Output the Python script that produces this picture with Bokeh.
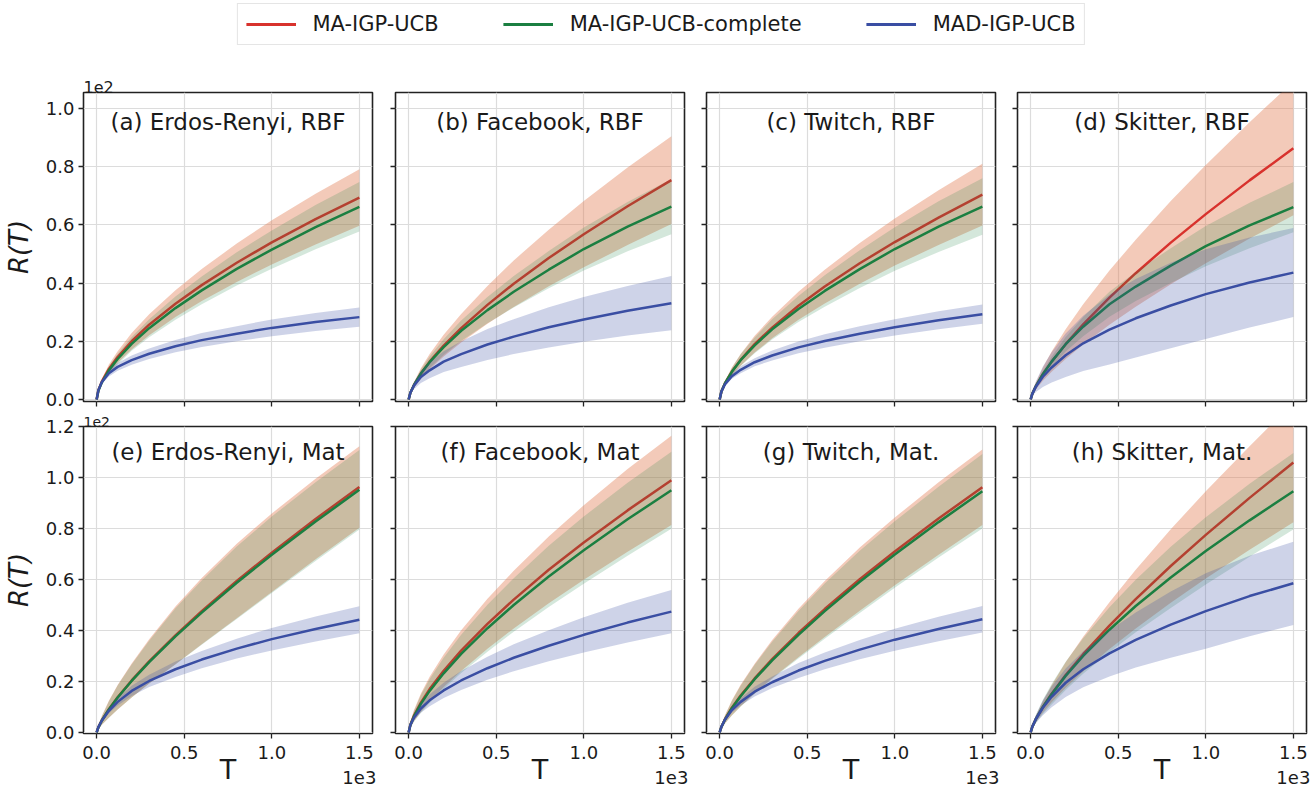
from bokeh.plotting import figure
from bokeh.models import (Legend, LegendItem, FixedTicker, Title, Label,
                          PrintfTickFormatter, CustomJSTickFormatter, Range1d)
from bokeh.layouts import column, row
from bokeh.embed import file_html
from bokeh.resources import INLINE

# ---------------- data (R(T) in units of 1e2, T in units of 1e3) ----------------
T = [0, 0.01, 0.03, 0.07, 0.12, 0.2, 0.3, 0.45, 0.6, 0.8, 1.0, 1.25, 1.5]

series_names = ["MA-IGP-UCB", "MA-IGP-UCB-complete", "MAD-IGP-UCB"]
panel_titles = ["(a) Erdos-Renyi, RBF", "(b) Facebook, RBF", "(c) Twitch, RBF",
                "(d) Skitter, RBF", "(e) Erdos-Renyi, Mat", "(f) Facebook, Mat",
                "(g) Twitch, Mat.", "(h) Skitter, Mat."]
x_ticks = [0.0, 0.5, 1.0, 1.5]
y_ticks_top = [0.0, 0.2, 0.4, 0.6, 0.8, 1.0]
y_ticks_bottom = [0.0, 0.2, 0.4, 0.6, 0.8, 1.0, 1.2]
x_scale_text = "1e3"
y_scale_text = "1e2"
x_label = "T"
y_label = "R(T)"

# (a) Erdos-Renyi, RBF
a_ma    = [0, 0.032, 0.062, 0.105, 0.146, 0.2, 0.257, 0.329, 0.393, 0.47, 0.54, 0.62, 0.694]
a_ma_w  = [0, 0.0045, 0.009, 0.015, 0.02, 0.028, 0.036, 0.046, 0.055, 0.066, 0.076, 0.087, 0.097]
a_mac   = [0, 0.03, 0.059, 0.1, 0.139, 0.191, 0.245, 0.314, 0.375, 0.449, 0.515, 0.592, 0.662]
a_mac_w = [0, 0.004, 0.008, 0.013, 0.018, 0.024, 0.031, 0.04, 0.048, 0.057, 0.066, 0.076, 0.085]
a_mad   = [0, 0.032, 0.06, 0.09, 0.112, 0.135, 0.157, 0.183, 0.204, 0.226, 0.246, 0.266, 0.283]
a_mad_w = [0, 0.004, 0.007, 0.011, 0.013, 0.016, 0.018, 0.021, 0.024, 0.026, 0.029, 0.031, 0.033]
# (b) Facebook, RBF
b_ma    = [0, 0.023, 0.049, 0.089, 0.13, 0.185, 0.245, 0.325, 0.398, 0.486, 0.568, 0.664, 0.754]
b_ma_w  = [0, 0.005, 0.01, 0.018, 0.026, 0.037, 0.049, 0.065, 0.08, 0.097, 0.114, 0.133, 0.151]
b_mac   = [0, 0.023, 0.049, 0.089, 0.128, 0.18, 0.236, 0.307, 0.37, 0.446, 0.517, 0.594, 0.663]
b_mac_w = [0, 0.004, 0.008, 0.014, 0.02, 0.027, 0.035, 0.045, 0.054, 0.064, 0.074, 0.085, 0.095]
b_mad   = [0, 0.023, 0.047, 0.077, 0.1, 0.13, 0.156, 0.189, 0.216, 0.248, 0.275, 0.305, 0.331]
b_mad_w = [0, 0.006, 0.012, 0.02, 0.027, 0.036, 0.044, 0.053, 0.06, 0.069, 0.077, 0.085, 0.093]
# (c) Twitch, RBF
c_ma    = [0, 0.027, 0.055, 0.096, 0.136, 0.19, 0.247, 0.322, 0.388, 0.468, 0.541, 0.625, 0.704]
c_ma_w  = [0, 0.004, 0.008, 0.014, 0.02, 0.029, 0.037, 0.048, 0.058, 0.07, 0.081, 0.094, 0.106]
c_mac   = [0, 0.027, 0.055, 0.095, 0.135, 0.186, 0.241, 0.311, 0.373, 0.448, 0.517, 0.594, 0.663]
c_mac_w = [0, 0.004, 0.008, 0.014, 0.02, 0.027, 0.035, 0.045, 0.054, 0.065, 0.075, 0.087, 0.097]
c_mad   = [0, 0.027, 0.052, 0.08, 0.102, 0.128, 0.151, 0.179, 0.201, 0.226, 0.248, 0.272, 0.293]
c_mad_w = [0, 0.003, 0.006, 0.009, 0.012, 0.014, 0.017, 0.02, 0.023, 0.026, 0.028, 0.031, 0.033]
# (d) Skitter, RBF
d_ma    = [0, 0.02, 0.046, 0.087, 0.13, 0.19, 0.258, 0.35, 0.434, 0.539, 0.637, 0.753, 0.863]
d_ma_w  = [0, 0.005, 0.012, 0.023, 0.035, 0.051, 0.069, 0.093, 0.115, 0.143, 0.169, 0.2, 0.23]
d_mac   = [0, 0.02, 0.046, 0.087, 0.13, 0.19, 0.25, 0.327, 0.388, 0.46, 0.527, 0.598, 0.661]
d_mac_w = [0, 0.003, 0.006, 0.011, 0.017, 0.025, 0.033, 0.043, 0.05, 0.06, 0.069, 0.078, 0.086]
d_mad   = [0, 0.02, 0.044, 0.078, 0.11, 0.152, 0.193, 0.24, 0.279, 0.323, 0.362, 0.402, 0.436]
d_mad_w = [0, 0.008, 0.018, 0.035, 0.052, 0.075, 0.095, 0.12, 0.135, 0.147, 0.154, 0.155, 0.153]
# (e) Erdos-Renyi, Mat
e_ma    = [0, 0.021, 0.048, 0.091, 0.138, 0.204, 0.279, 0.381, 0.476, 0.594, 0.705, 0.837, 0.963]
e_ma_w  = [0, 0.008, 0.018, 0.033, 0.048, 0.067, 0.087, 0.113, 0.13, 0.146, 0.154, 0.158, 0.16]
e_mac   = [0, 0.02, 0.047, 0.09, 0.137, 0.202, 0.276, 0.377, 0.47, 0.587, 0.697, 0.827, 0.952]
e_mac_w = [0, 0.008, 0.017, 0.032, 0.047, 0.065, 0.084, 0.11, 0.126, 0.142, 0.15, 0.154, 0.156]
e_mad   = [0, 0.021, 0.047, 0.085, 0.12, 0.163, 0.202, 0.248, 0.286, 0.329, 0.366, 0.406, 0.442]
e_mad_w = [0, 0.003, 0.006, 0.01, 0.014, 0.02, 0.024, 0.03, 0.034, 0.039, 0.044, 0.049, 0.053]
# (f) Facebook, Mat
f_ma    = [0, 0.03, 0.065, 0.117, 0.17, 0.242, 0.321, 0.426, 0.521, 0.638, 0.745, 0.871, 0.989]
f_ma_w  = [0, 0.012, 0.022, 0.036, 0.049, 0.064, 0.08, 0.098, 0.113, 0.131, 0.146, 0.162, 0.175]
f_mac   = [0, 0.029, 0.062, 0.112, 0.163, 0.232, 0.308, 0.409, 0.5, 0.612, 0.715, 0.836, 0.95]
f_mac_w = [0, 0.011, 0.021, 0.035, 0.047, 0.061, 0.075, 0.092, 0.105, 0.12, 0.132, 0.143, 0.151]
f_mad   = [0, 0.029, 0.058, 0.094, 0.126, 0.165, 0.204, 0.252, 0.293, 0.34, 0.383, 0.431, 0.474]
f_mad_w = [0, 0.005, 0.01, 0.017, 0.023, 0.03, 0.037, 0.045, 0.053, 0.061, 0.069, 0.078, 0.085]
# (g) Twitch, Mat.
g_ma    = [0, 0.022, 0.051, 0.097, 0.145, 0.212, 0.288, 0.39, 0.484, 0.601, 0.71, 0.839, 0.962]
g_ma_w  = [0, 0.007, 0.016, 0.029, 0.042, 0.058, 0.075, 0.095, 0.11, 0.124, 0.133, 0.142, 0.148]
g_mac   = [0, 0.022, 0.05, 0.095, 0.142, 0.209, 0.283, 0.383, 0.476, 0.591, 0.698, 0.825, 0.946]
g_mac_w = [0, 0.007, 0.016, 0.028, 0.041, 0.057, 0.073, 0.093, 0.108, 0.122, 0.13, 0.139, 0.146]
g_mad   = [0, 0.022, 0.05, 0.088, 0.12, 0.16, 0.197, 0.243, 0.281, 0.325, 0.364, 0.406, 0.444]
g_mad_w = [0, 0.003, 0.006, 0.01, 0.014, 0.019, 0.023, 0.029, 0.033, 0.038, 0.043, 0.048, 0.052]
# (h) Skitter, Mat.
h_ma    = [0, 0.023, 0.053, 0.1, 0.152, 0.225, 0.307, 0.419, 0.523, 0.653, 0.775, 0.92, 1.059]
h_ma_w  = [0, 0.005, 0.012, 0.022, 0.033, 0.05, 0.068, 0.092, 0.115, 0.144, 0.171, 0.203, 0.235]
h_mac   = [0, 0.023, 0.053, 0.1, 0.15, 0.222, 0.3, 0.403, 0.496, 0.608, 0.712, 0.832, 0.946]
h_mac_w = [0, 0.007, 0.016, 0.028, 0.04, 0.055, 0.07, 0.088, 0.103, 0.12, 0.132, 0.143, 0.15]
h_mad   = [0, 0.023, 0.053, 0.097, 0.14, 0.195, 0.248, 0.31, 0.363, 0.423, 0.476, 0.535, 0.585]
h_mad_w = [0, 0.007, 0.016, 0.029, 0.041, 0.056, 0.071, 0.09, 0.108, 0.13, 0.148, 0.158, 0.163]

panels = [
    (a_ma, a_ma_w, a_mac, a_mac_w, a_mad, a_mad_w),
    (b_ma, b_ma_w, b_mac, b_mac_w, b_mad, b_mad_w),
    (c_ma, c_ma_w, c_mac, c_mac_w, c_mad, c_mad_w),
    (d_ma, d_ma_w, d_mac, d_mac_w, d_mad, d_mad_w),
    (e_ma, e_ma_w, e_mac, e_mac_w, e_mad, e_mad_w),
    (f_ma, f_ma_w, f_mac, f_mac_w, f_mad, f_mad_w),
    (g_ma, g_ma_w, g_mac, g_mac_w, g_mad, g_mad_w),
    (h_ma, h_ma_w, h_mac, h_mac_w, h_mad, h_mad_w),
]

# ---------------- style ----------------
FONT = "DejaVu Sans"
LINE_COLORS = ["#d8322d", "#1b7f41", "#3a4ea3"]
FILL_COLORS = ["#e07a50", "#1b7f41", "#3a4ea3"]
FILL_ALPHAS = [0.40, 0.19, 0.25]
TEXT = "#1a1a1a"
TICK_FONT = "18px"

Y_TOP = (-0.007, 1.055)
Y_BOT = (-0.004, 1.2)
EMPTY = CustomJSTickFormatter(code="return '';")

# column geometry: (left border, frame width, right border)
COLS = [(83, 289, 11), (12, 289, 11), (11, 289, 11), (11, 289, 6)]
# row geometry: (top border, frame height, bottom border)
ROWS = [(42, 309, 9), (16, 307, 55)]


def make_panel(idx):
    col, r = idx % 4, idx // 4
    left, fw, right = COLS[col]
    top, fh, bottom = ROWS[r]
    yr = Y_TOP if r == 0 else Y_BOT
    yt = y_ticks_top if r == 0 else y_ticks_bottom
    p = figure(width=left + fw + right, height=top + fh + bottom,
               min_border_left=left, min_border_right=right,
               min_border_top=top, min_border_bottom=bottom,
               x_range=Range1d(-0.075, 1.575), y_range=Range1d(*yr),
               toolbar_location=None, output_backend="svg", title=None)
    p.background_fill_color = "white"
    p.border_fill_color = "white"
    p.outline_line_color = "#222222"
    p.outline_line_width = 1.6

    for ax, ticks in ((p.xaxis, x_ticks), (p.yaxis, yt)):
        ax.ticker = FixedTicker(ticks=ticks)
        ax.formatter = PrintfTickFormatter(format="%.1f")
        ax.axis_line_color = None
        ax.major_tick_line_color = "#222222"
        ax.major_tick_line_width = 1.3
        ax.major_tick_in = 0
        ax.major_tick_out = 5
        ax.minor_tick_line_color = None
        ax.major_label_text_font = FONT
        ax.major_label_text_font_size = TICK_FONT
        ax.major_label_text_color = TEXT
    p.xgrid.ticker = FixedTicker(ticks=x_ticks)
    p.ygrid.ticker = FixedTicker(ticks=yt)
    p.grid.grid_line_color = "#dcdcdc"
    p.grid.grid_line_width = 1.2

    if r == 0:
        p.xaxis.formatter = EMPTY
        p.xaxis.major_label_text_font_size = "0px"
        p.xaxis.major_label_standoff = 0
    else:
        p.xaxis.major_label_standoff = 3
        p.xaxis.major_label_overrides = {1.5: "1.5\n" + x_scale_text}
        p.xaxis.axis_label = x_label
        p.xaxis.axis_label_text_font = FONT
        p.xaxis.axis_label_text_font_size = "27px"
        p.xaxis.axis_label_text_font_style = "normal"
        p.xaxis.axis_label_text_color = TEXT
        p.xaxis.axis_label_standoff = -37
    if col != 0:
        p.yaxis.formatter = EMPTY
        p.yaxis.major_label_text_font_size = "0px"
        p.yaxis.major_label_standoff = 0
    else:
        p.yaxis.major_label_standoff = 4
        p.yaxis.axis_label = y_label
        p.yaxis.axis_label_text_font = FONT
        p.yaxis.axis_label_text_font_size = "26px"
        p.yaxis.axis_label_text_font_style = "italic"
        p.yaxis.axis_label_text_color = TEXT
        p.yaxis.axis_label_standoff = 9
        p.add_layout(Title(text=y_scale_text, align="left", standoff=0,
                           text_font=FONT,
                           text_font_size="16px" if r == 0 else "14px",
                           text_font_style="normal", text_color=TEXT), "above")

    data = panels[idx]
    for k in range(3):
        mean, w = data[2 * k], data[2 * k + 1]
        lo = [m - s for m, s in zip(mean, w)]
        hi = [m + s for m, s in zip(mean, w)]
        p.varea(x=T, y1=lo, y2=hi, fill_color=FILL_COLORS[k],
                fill_alpha=FILL_ALPHAS[k])
        p.line(T, mean, line_color=LINE_COLORS[k], line_width=2.5)

    ty = 0.952 if r == 0 else 1.099
    p.add_layout(Label(x=0.75, y=ty, text=panel_titles[idx], text_align="center",
                       text_baseline="middle", text_font=FONT,
                       text_font_size="23px", text_color=TEXT))
    return p


figs = [make_panel(i) for i in range(8)]

# ---------------- legend strip ----------------
lf = figure(width=1313, height=50, x_range=Range1d(0, 1), y_range=Range1d(0, 1),
            toolbar_location=None, output_backend="svg", title=None,
            x_axis_location=None, y_axis_location=None, min_border=0,
            min_border_left=8)
lf.grid.visible = False
lf.outline_line_color = None
lf.border_fill_color = "white"
rends = [lf.line([5, 6], [5, 6], line_color=c, line_width=3) for c in LINE_COLORS]
legend = Legend(items=[LegendItem(label=n, renderers=[rr])
                       for n, rr in zip(series_names, rends)],
                orientation="horizontal", location="top_center", margin=3,
                padding=8, spacing=64, glyph_width=50, glyph_height=22,
                label_standoff=17, label_text_font=FONT,
                label_text_font_size="21px", label_text_color=TEXT,
                border_line_color="#cccccc", border_line_width=1.5,
                background_fill_color="white", background_fill_alpha=1.0)
lf.add_layout(legend, "center")

layout = column(lf, row(*figs[:4]), row(*figs[4:]))

with open("out.html", "w") as fh:
    fh.write(file_html(layout, INLINE))
